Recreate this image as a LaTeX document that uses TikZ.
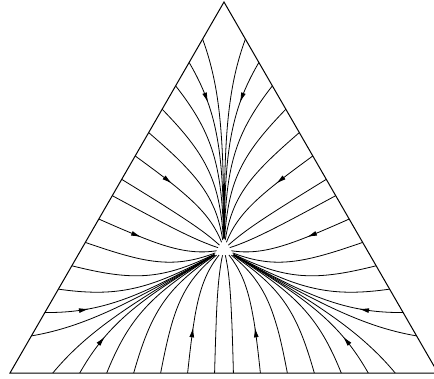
\documentclass[tikz,border=0pt]{standalone}
\usepackage{tikz}
\usetikzlibrary{arrows.meta}

\tikzset{
  flow/.style={line width=0.8pt, line join=round},
  flowtip/.style={-{Latex[length=10pt,width=4.8pt]}},
  rim/.style={line width=1pt, line join=miter}
}

% logit dynamics x' = softmax(-x/eta) - x, integrated from a point of the rim
\def\noise{0.1}
\def\dt{0.0125}
\def\arrowstep{11}
\newcount\flowstep
\newcommand{\flowline}[4]{%
  \pgfmathsetmacro{\xa}{#1}%
  \pgfmathsetmacro{\xb}{#2}%
  \pgfmathsetmacro{\xc}{#3}%
  \edef\flowpath{(barycentric cs:top=\xa,bl=\xb,br=\xc)}%
  \def\flowarrow{}%
  \flowstep=0
  \loop
    \pgfmathsetmacro{\ea}{exp(-\xa/\noise)}%
    \pgfmathsetmacro{\eb}{exp(-\xb/\noise)}%
    \pgfmathsetmacro{\ec}{exp(-\xc/\noise)}%
    \pgfmathsetmacro{\es}{\ea+\eb+\ec}%
    \edef\flowlast{(barycentric cs:top=\xa,bl=\xb,br=\xc)}%
    \pgfmathsetmacro{\xa}{\xa+\dt*(\ea/\es-\xa)}%
    \pgfmathsetmacro{\xb}{\xb+\dt*(\eb/\es-\xb)}%
    \pgfmathsetmacro{\xc}{\xc+\dt*(\ec/\es-\xc)}%
    \edef\flowpath{\flowpath -- (barycentric cs:top=\xa,bl=\xb,br=\xc)}%
    \advance\flowstep by 1
    \ifnum\flowstep=\arrowstep
      \edef\flowarrow{\flowlast -- (barycentric cs:top=\xa,bl=\xb,br=\xc)}%
    \fi
    \pgfmathtruncatemacro{\flowgo}{and(min(\xa,\xb,\xc)<0.3173,\flowstep<400)}%
  \ifnum\flowgo=1 \repeat
  \edef\flowdraw{\noexpand\draw[flow] \flowpath;}\flowdraw
  \ifnum#4=1 \edef\flowdraw{\noexpand\draw[flow,flowtip] \flowarrow;}\flowdraw\fi
}

\begin{document}
\begin{tikzpicture}[x=1pt, y=1pt]
\useasboundingbox (0,0) rectangle (434,378);
\coordinate (top) at (224,376);
\coordinate (bl) at (10,5);
\coordinate (br) at (438,5);

% trajectories from the three sides
\foreach \t [count=\k] in {0.1,0.163,0.226,0.289,0.352,0.415,0.478,0.522,0.585,0.648,0.711,0.774,0.837,0.9}{
  \pgfmathtruncatemacro{\witharrow}{or(or(\k==2,\k==6),or(\k==9,\k==13))}
  \flowline{0}{1-\t}{\t}{\witharrow}
  \flowline{\t}{1-\t}{0}{\witharrow}
  \flowline{\t}{0}{1-\t}{\witharrow}
}

\draw[rim] (top) -- (bl) -- (br) -- cycle;
\end{tikzpicture}
\end{document}
